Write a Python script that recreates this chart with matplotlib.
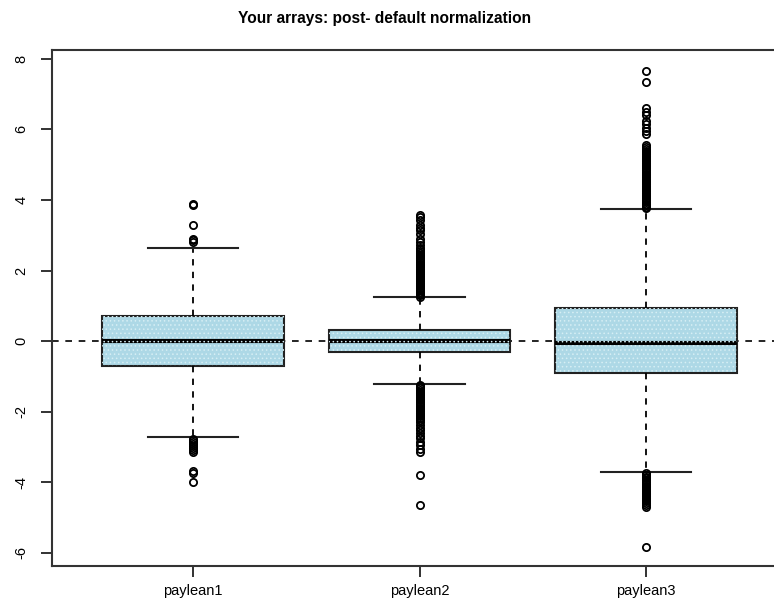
import matplotlib
matplotlib.use("Agg")
import matplotlib.pyplot as plt
from matplotlib.patches import Rectangle

plt.rcParams['font.family'] = ['Liberation Sans', 'DejaVu Sans']
plt.rcParams['hatch.linewidth'] = 0.6

# summary statistics for each array
names = ["paylean1", "paylean2", "paylean3"]
medians = [0.0, 0.0, -0.04]
q1 = [-0.71, -0.31, -0.91]
q3 = [0.71, 0.31, 0.93]
whislo = [-2.72, -1.22, -3.72]
whishi = [2.65, 1.24, 3.74]

# outliers beyond the whiskers
fliers1 = [2.82, 2.86, 2.90, 3.30, 3.85, 3.88,
           -2.76, -2.80, -2.85, -2.90, -2.96, -3.02, -3.08, -3.14,
           -3.68, -3.74, -3.98]
fliers2 = [1.26, 1.30, 1.35, 1.40, 1.45, 1.50, 1.55, 1.60, 1.65, 1.70,
           1.75, 1.80, 1.85, 1.90, 1.95, 2.00, 2.05, 2.10, 2.15, 2.20,
           2.25, 2.30, 2.35, 2.40, 2.45, 2.50, 2.55, 2.60, 2.65,
           2.72, 2.80, 2.90, 3.05, 3.15, 3.22, 3.30, 3.42, 3.52, 3.58,
           -1.24, -1.28, -1.33, -1.38, -1.43, -1.48, -1.53, -1.58, -1.63,
           -1.68, -1.73, -1.78, -1.83, -1.88, -1.93, -1.98, -2.03, -2.08,
           -2.13, -2.18, -2.23, -2.28, -2.38, -2.45, -2.52, -2.60, -2.68,
           -2.75, -2.85, -2.95, -3.05, -3.15, -3.78, -4.65]
fliers3 = [3.76, 3.80, 3.85, 3.90, 3.95, 4.00, 4.05, 4.10, 4.15, 4.20,
           4.25, 4.30, 4.35, 4.40, 4.45, 4.50, 4.55, 4.60, 4.65, 4.70,
           4.75, 4.80, 4.85, 4.90, 4.95, 5.00, 5.05, 5.10, 5.15, 5.20,
           5.25, 5.30, 5.35, 5.40, 5.45, 5.50, 5.55,
           5.88, 5.95, 6.05, 6.15, 6.25, 6.40, 6.50, 6.62, 7.35, 7.65,
           -3.74, -3.79, -3.84, -3.89, -3.94, -3.99, -4.04, -4.09, -4.14,
           -4.19, -4.24, -4.29, -4.34, -4.39, -4.44, -4.49, -4.54, -4.59,
           -4.64, -4.69, -5.82]
fliers = [fliers1, fliers2, fliers3]

yticks = [-6, -4, -2, 0, 2, 4, 6, 8]

stats = []
for i in range(len(names)):
    stats.append(dict(label=names[i], med=medians[i], q1=q1[i], q3=q3[i],
                      whislo=whislo[i], whishi=whishi[i], fliers=fliers[i]))

fig = plt.figure(figsize=(7.74, 6.03), dpi=100)
ax = fig.add_axes([52 / 774, 37 / 603, 735 / 774, 516 / 603])

ax.axhline(0, color="black", lw=1.2, ls=(0, (4, 4)), zorder=1)

bp = ax.bxp(stats, positions=[1, 2, 3], widths=0.8, patch_artist=True,
            boxprops=dict(facecolor="#add8e6", edgecolor="#222222", lw=1.5),
            medianprops=dict(color="black", lw=3),
            whiskerprops=dict(color="black", lw=1.3, ls=(0, (3.5, 3.5))),
            capprops=dict(color="#222222", lw=1.5),
            flierprops=dict(marker="o", mfc="none", mec="black", ms=5.2,
                            mew=1.3),
            zorder=2)

# dotted fill texture on the boxes
for i in range(len(names)):
    ax.add_patch(Rectangle((i + 1 - 0.4, q1[i]), 0.8, q3[i] - q1[i],
                           facecolor="none", edgecolor="#d6eef4", lw=0,
                           hatch="....", zorder=2.5))

ax.set_xlim(0.377, 3.623)
ax.set_ylim(-6.37, 8.25)
ax.set_yticks(yticks)
ax.set_yticklabels([str(v) for v in yticks], rotation=90, va="center")
ax.set_xticks([1, 2, 3])
ax.set_xticklabels(names, fontsize=11)
ax.tick_params(axis="both", length=8, width=1.3, color="#222222",
               labelsize=10.5)
ax.tick_params(axis="y", pad=9)
ax.tick_params(axis="x", pad=5)
for s in ax.spines.values():
    s.set_linewidth(1.5)
    s.set_color("#333333")

fig.text(385 / 774, 1 - 18 / 603, "Your arrays: post- default normalization",
         ha="center", va="center", fontsize=11.2, fontweight="bold")

fig.savefig("out.png", dpi=100)
